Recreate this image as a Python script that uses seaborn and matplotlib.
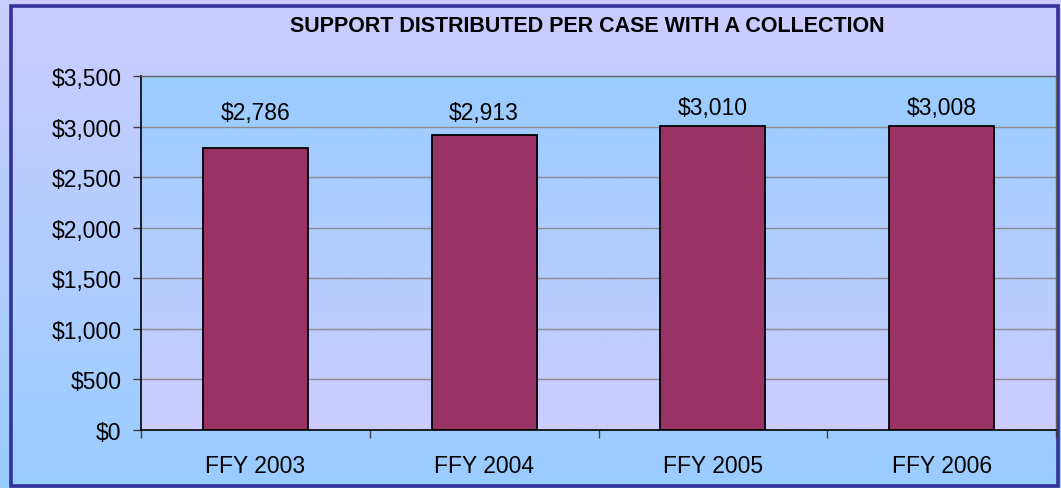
import numpy as np
import pandas as pd
import matplotlib
matplotlib.use("Agg")
import matplotlib.pyplot as plt
from matplotlib.colors import LinearSegmentedColormap
from matplotlib.patches import Rectangle
import seaborn as sns

sns.set_theme(style="white")
plt.rcParams['font.family'] = ['Liberation Sans', 'DejaVu Sans']
plt.rcParams['text.color'] = 'black'
plt.rcParams['xtick.color'] = 'black'
plt.rcParams['ytick.color'] = 'black'

# dados
anos = ['FFY 2003', 'FFY 2004', 'FFY 2005', 'FFY 2006']
valores = [2786, 2913, 3010, 3008]
rotulos = ['$2,786', '$2,913', '$3,010', '$3,008']
ticks_y = [0, 500, 1000, 1500, 2000, 2500, 3000, 3500]
rotulos_y = ['$0', '$500', '$1,000', '$1,500', '$2,000', '$2,500', '$3,000', '$3,500']

df = pd.DataFrame({'ano': anos, 'valor': valores})

W, H = 1061, 489
fig = plt.figure(figsize=(W / 100, H / 100), dpi=100)

# fundo externo: lavanda em cima, azul claro embaixo
bg = fig.add_axes([0, 0, 1, 1], zorder=-10)
grad = np.linspace(0, 1, 256).reshape(-1, 1)
cmap_out = LinearSegmentedColormap.from_list('out', ['#CCCCFF', '#99CCFF'])
bg.imshow(grad, aspect='auto', cmap=cmap_out, extent=[0, 1, 0, 1], origin='upper')
bg.set_xlim(0, 1)
bg.set_ylim(0, 1)
bg.set_axis_off()
# moldura azul escura
bg.add_patch(Rectangle((10.5 / W, 1 - 486.8 / H), 1047.5 / W, 480.3 / H,
                       fill=False, edgecolor='#333399', linewidth=2.6,
                       clip_on=False, zorder=5))

ax = fig.add_axes([141 / W, 1 - 431 / H, 915 / W, 354 / H])
ax.set_facecolor('none')

# área do gráfico: azul claro em cima, lavanda embaixo
cmap_in = LinearSegmentedColormap.from_list('in', ['#99CCFF', '#CCCCFF'])
ax.imshow(grad, aspect='auto', cmap=cmap_in, extent=[-0.5, 3.5, 0, 3500],
          origin='upper', zorder=0)

for t in ticks_y[1:-1]:
    ax.axhline(t, color='#8C8C8C', linewidth=1, zorder=1)

sns.barplot(data=df, x='ano', y='valor', color='#993366', width=0.46,
            edgecolor='black', linewidth=1.3, saturation=1, ax=ax, zorder=2)

for i, (v, r) in enumerate(zip(valores, rotulos)):
    ax.text(i, max(v + 180, 3140), r, ha='center', va='center', fontsize=16.5)

ax.set_xlim(-0.5, 3.5)
ax.set_ylim(0, 3500)
ax.set_yticks(ticks_y)
ax.set_yticklabels(rotulos_y, fontsize=16.5)
ax.set_xticks([-0.5, 0.5, 1.5, 2.5, 3.5])
ax.set_xticklabels([])
ax.set_xticks([0, 1, 2, 3], minor=True)
ax.set_xticklabels(anos, minor=True, fontsize=16.5)
ax.tick_params(axis='x', which='major', direction='out', length=6, width=1,
               color='#404040', bottom=True)
ax.tick_params(axis='x', which='minor', length=0, pad=17)
ax.tick_params(axis='y', direction='out', length=6, width=1, color='#404040',
               left=True, pad=8)
ax.set_xlabel('')
ax.set_ylabel('')

for s in ['left', 'bottom']:
    ax.spines[s].set_color('black')
    ax.spines[s].set_linewidth(1.2)
for s in ['top', 'right']:
    ax.spines[s].set_color('#606060')
    ax.spines[s].set_linewidth(1)

fig.text(587 / W, 1 - 26 / H, 'SUPPORT DISTRIBUTED PER CASE WITH A COLLECTION',
         ha='center', va='center', fontsize=15.5, fontweight='bold')

fig.savefig('out.png', dpi=100)
